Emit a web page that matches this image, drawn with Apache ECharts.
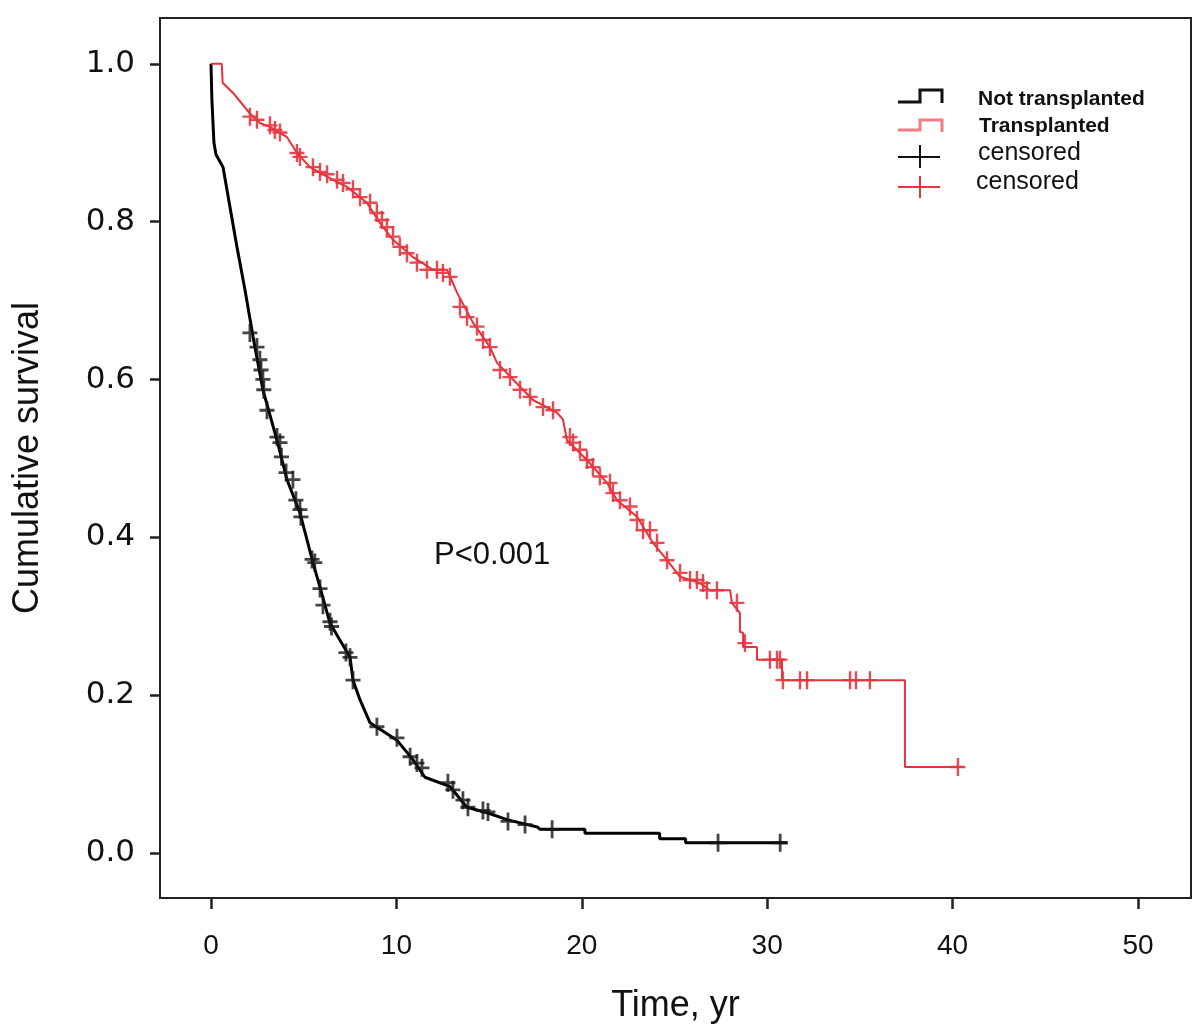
<!DOCTYPE html>
<html>
<head>
<meta charset="utf-8">
<title>Cumulative survival</title>
<script src="https://cdn.jsdelivr.net/npm/echarts@6/dist/echarts.min.js"></script>
<style>
  html, body { margin: 0; padding: 0; background: #fff; }
  #echart { width: 1200px; height: 1035px; }
</style>
</head>
<body>
<div id="echart"></div>
<script>
// Not transplanted curve (years, survival)
var notTime = [0, 0.05, 0.16, 0.27, 0.65, 1.02, 1.40, 1.83, 2.27, 2.80, 3.56, 4.10, 4.80, 5.50, 5.88, 6.42, 7.50, 7.66, 8.04, 8.58, 10.03, 10.90, 11.54, 12.90, 13.80, 14.90, 16.00, 17.60, 17.75, 20.17, 20.17, 24.20, 24.20, 25.60, 25.60, 31.10];
var notSurv = [1.0, 0.954, 0.900, 0.885, 0.869, 0.819, 0.768, 0.714, 0.654, 0.587, 0.523, 0.473, 0.431, 0.368, 0.337, 0.291, 0.248, 0.219, 0.194, 0.165, 0.143, 0.118, 0.096, 0.084, 0.058, 0.051, 0.042, 0.033, 0.030, 0.030, 0.025, 0.025, 0.018, 0.018, 0.013, 0.013];

// Transplanted curve
var transTime = [0, 0.58, 0.63, 1.19, 2.10, 2.64, 3.18, 4.10, 4.64, 5.34, 6.58, 7.34, 8.41, 9.12, 9.82, 10.90, 11.97, 12.73, 13.05, 13.27, 14.13, 15.05, 15.43, 16.29, 17.37, 18.66, 18.99, 19.20, 20.28, 21.36, 21.90, 22.98, 23.84, 24.60, 25.30, 26.38, 26.90, 28.00, 28.10, 28.53, 28.53, 28.70, 28.70, 29.45, 29.45, 30.80, 30.80, 37.43, 37.43, 40.56];
var transSurv = [1.0, 1.0, 0.976, 0.963, 0.937, 0.925, 0.920, 0.907, 0.887, 0.869, 0.853, 0.844, 0.824, 0.798, 0.777, 0.755, 0.739, 0.739, 0.722, 0.710, 0.672, 0.641, 0.621, 0.600, 0.574, 0.558, 0.549, 0.523, 0.498, 0.469, 0.447, 0.426, 0.393, 0.371, 0.350, 0.342, 0.333, 0.333, 0.317, 0.304, 0.280, 0.279, 0.261, 0.261, 0.245, 0.245, 0.219, 0.219, 0.109, 0.109];

// censored cases, not transplanted
var notCensTime = [2.10, 2.48, 2.64, 2.70, 2.80, 2.85, 3.02, 3.56, 3.72, 3.80, 4.05, 4.42, 4.58, 4.80, 4.85, 5.45, 5.60, 5.88, 6.04, 6.42, 6.50, 7.28, 7.50, 7.66, 8.95, 10.03, 10.74, 11.11, 11.38, 12.78, 13.05, 13.59, 13.86, 14.67, 14.94, 16.02, 16.94, 18.40, 27.35, 30.70];
var notCensSurv = [0.659, 0.641, 0.625, 0.612, 0.600, 0.587, 0.561, 0.527, 0.520, 0.502, 0.482, 0.473, 0.447, 0.435, 0.426, 0.372, 0.368, 0.335, 0.314, 0.293, 0.287, 0.254, 0.248, 0.219, 0.160, 0.146, 0.122, 0.114, 0.108, 0.089, 0.080, 0.067, 0.058, 0.054, 0.052, 0.040, 0.036, 0.030, 0.013, 0.013];

// censored cases, transplanted
var transCensTime = [2.10, 2.48, 3.18, 3.45, 3.72, 4.64, 4.80, 5.50, 5.88, 6.26, 6.80, 7.12, 7.66, 8.04, 8.58, 8.95, 9.22, 9.49, 9.82, 10.19, 10.57, 11.11, 11.65, 12.19, 12.51, 12.89, 13.43, 13.81, 14.35, 14.67, 15.05, 15.59, 16.13, 16.67, 17.21, 17.91, 18.45, 19.36, 19.53, 19.90, 20.28, 20.60, 20.98, 21.52, 21.68, 22.06, 22.60, 22.98, 23.30, 23.68, 24.06, 24.60, 25.30, 25.84, 26.21, 26.54, 26.75, 27.29, 28.37, 28.80, 30.15, 30.53, 30.69, 30.85, 31.77, 32.15, 34.47, 34.79, 35.54, 40.29];
var transCensSurv = [0.933, 0.929, 0.922, 0.916, 0.913, 0.887, 0.882, 0.869, 0.863, 0.860, 0.853, 0.849, 0.841, 0.831, 0.824, 0.811, 0.802, 0.793, 0.781, 0.768, 0.760, 0.748, 0.739, 0.739, 0.735, 0.730, 0.692, 0.679, 0.667, 0.650, 0.641, 0.612, 0.603, 0.587, 0.578, 0.565, 0.561, 0.527, 0.520, 0.511, 0.498, 0.489, 0.477, 0.469, 0.456, 0.447, 0.439, 0.422, 0.409, 0.409, 0.393, 0.371, 0.355, 0.346, 0.346, 0.342, 0.333, 0.333, 0.317, 0.266, 0.245, 0.245, 0.245, 0.219, 0.219, 0.219, 0.219, 0.219, 0.219, 0.109];

var xTicks = [0, 10, 20, 30, 40, 50];
var yTicks = [0, 0.2, 0.4, 0.6, 0.8, 1.0];

function pairs(a, b) {
  return a.map(function (v, i) { return [v, b[i]]; });
}

var plusBlack = 'path://M0,7.6H15V10.4H0Z M6.1,0H8.9V18H6.1Z';
var plusRed = 'path://M0,7.8H15V10.2H0Z M6.3,0H8.7V18H6.3Z';

var myChart = echarts.init(document.getElementById('echart'));
var option = {
  animation: false,
  backgroundColor: '#fff',
  grid: {
    left: 160, right: 9, top: 18, bottom: 137,
    show: true, borderColor: '#222', borderWidth: 2, backgroundColor: 'transparent'
  },
  xAxis: {
    type: 'value',
    min: -2.75, max: 52.86,
    name: 'Time, yr',
    nameLocation: 'middle',
    nameGap: 90,
    nameTextStyle: { fontFamily: 'Liberation Sans', fontSize: 36, color: '#111' },
    axisLine: { show: false, onZero: false },
    splitLine: { show: false },
    axisTick: { show: true, inside: false, customValues: xTicks, length: 11, lineStyle: { color: '#222', width: 2.5 } },
    axisLabel: {
      customValues: xTicks, margin: 34,
      fontFamily: 'Liberation Sans', fontSize: 28, color: '#111'
    }
  },
  yAxis: {
    type: 'value',
    min: -0.057, max: 1.058,
    name: 'Cumulative survival',
    nameLocation: 'middle',
    nameGap: 114,
    nameTextStyle: { fontFamily: 'Liberation Sans', fontSize: 36, color: '#111' },
    axisLine: { show: false, onZero: false },
    splitLine: { show: false },
    axisTick: { show: true, inside: false, customValues: yTicks, length: 10, lineStyle: { color: '#222', width: 2.5 } },
    axisLabel: {
      customValues: yTicks, margin: 25,
      fontFamily: 'DejaVu Sans', fontSize: 31, color: '#111',
      formatter: function (v) { return v.toFixed(1); }
    }
  },
  series: [
    {
      name: 'Not transplanted',
      type: 'line',
      data: pairs(notTime, notSurv),
      showSymbol: false,
      lineStyle: { color: '#000', width: 3 },
      z: 2
    },
    {
      name: 'Transplanted',
      type: 'line',
      data: pairs(transTime, transSurv),
      showSymbol: false,
      lineStyle: { color: '#e8313a', width: 2 },
      z: 2
    },
    {
      name: 'censored',
      type: 'scatter',
      data: pairs(notCensTime, notCensSurv),
      symbol: plusBlack,
      symbolSize: [15, 18],
      itemStyle: { color: '#151515' },
      z: 3
    },
    {
      name: 'censored ',
      type: 'scatter',
      data: pairs(transCensTime, transCensSurv),
      symbol: plusRed,
      symbolSize: [15, 18],
      itemStyle: { color: '#e8353f', opacity: 0.9 },
      z: 3
    }
  ],
  graphic: [
    {
      type: 'text', left: 434, top: 540,
      style: { text: 'P<0.001', font: '31px "Liberation Sans"', fill: '#111' }
    },
    // legend
    { type: 'polyline', shape: { points: [[898, 102], [920, 102], [920, 90], [942, 90], [942, 103]] }, style: { stroke: '#111', lineWidth: 3, fill: null } },
    { type: 'polyline', shape: { points: [[898, 130], [920, 130], [920, 120], [942, 120], [942, 132]] }, style: { stroke: '#f07c84', lineWidth: 3, fill: null } },
    { type: 'line', shape: { x1: 898, y1: 157, x2: 940, y2: 157 }, style: { stroke: '#111', lineWidth: 2 } },
    { type: 'line', shape: { x1: 920, y1: 145, x2: 920, y2: 168 }, style: { stroke: '#111', lineWidth: 2 } },
    { type: 'line', shape: { x1: 898, y1: 187, x2: 940, y2: 187 }, style: { stroke: '#e8353f', lineWidth: 2 } },
    { type: 'line', shape: { x1: 920, y1: 176, x2: 920, y2: 198 }, style: { stroke: '#e8353f', lineWidth: 2 } },
    { type: 'text', x: 978, y: 99, style: { text: 'Not transplanted', font: 'bold 21px "Liberation Sans"', fill: '#111', verticalAlign: 'middle' } },
    { type: 'text', x: 979, y: 126, style: { text: 'Transplanted', font: 'bold 21px "Liberation Sans"', fill: '#111', verticalAlign: 'middle' } },
    { type: 'text', x: 978, y: 153, style: { text: 'censored', font: '25px "Liberation Sans"', fill: '#111', verticalAlign: 'middle' } },
    { type: 'text', x: 976, y: 182, style: { text: 'censored', font: '25px "Liberation Sans"', fill: '#111', verticalAlign: 'middle' } }
  ]
};
myChart.setOption(option);

window.onresize = function () {
  myChart.resize();
};
</script>
</body>
</html>
